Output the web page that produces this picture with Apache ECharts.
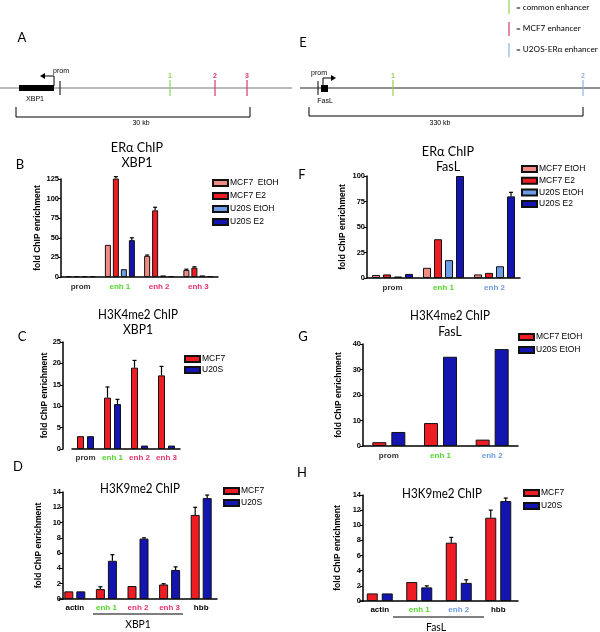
<!DOCTYPE html>
<html lang="en">
  <head>
    <meta charset="UTF-8" />
    <title>ChIP enrichment at XBP1 and FasL</title>
    <script src="https://cdn.jsdelivr.net/npm/echarts@6/dist/echarts.min.js"></script>
    <style>
      body { margin: 0; background: #fff; }
    </style>
  </head>
  <body>
    <div id="main" style="width: 600px; height: 632px"></div>

    <script type="text/javascript">
      // categories
      const xbp1Cats = ["prom", "enh 1", "enh 2", "enh 3"];
      const faslCats = ["prom", "enh 1", "enh 2"];
      const xbp1K9Cats = ["actin", "enh 1", "enh 2", "enh 3", "hbb"];
      const faslK9Cats = ["actin", "enh 1", "enh 2", "hbb"];

      // B: ERa ChIP XBP1
      const bMcf7EtOH = [1, 41, 27, 9];
      const bMcf7E2 = [1, 126, 85, 12];
      const bU2osEtOH = [1, 10, 2, 2];
      const bU2osE2 = [1, 47, 1, 1];
      const bMcf7EtOHErr = [null, null, 28, 10];
      const bMcf7E2Err = [null, 128, 89, 13];
      const bU2osE2Err = [null, 50, null, null];

      // F: ERa ChIP FasL
      const fMcf7EtOH = [3, 10, 3.5];
      const fMcf7E2 = [3.5, 38, 5];
      const fU2osEtOH = [1.5, 17.5, 11.5];
      const fU2osE2 = [4, 100, 80];
      const fU2osE2Err = [null, null, 84];

      // C: H3K4me2 XBP1
      const cMcf7 = [3, 12, 19, 17.2];
      const cU2os = [3, 10.5, 0.8, 0.8];
      const cMcf7Err = [null, 14.5, 20.7, 19.3];
      const cU2osErr = [null, 11.6, null, null];

      // G: H3K4me2 FasL
      const gMcf7 = [1.5, 9, 2.5];
      const gU2os = [5.5, 35, 38];

      // D: H3K9me2 XBP1
      const dMcf7 = [1, 1.3, 1.7, 1.9, 11.0];
      const dU2os = [1, 5.0, 7.9, 3.8, 13.2];
      const dMcf7Err = [null, 1.6, null, 2.0, 12.0];
      const dU2osErr = [null, 5.8, 8.0, 4.2, 13.6];

      // H: H3K9me2 FasL
      const hMcf7 = [1, 2.5, 7.7, 11.0];
      const hU2os = [1, 1.8, 2.4, 13.2];
      const hMcf7Err = [null, null, 8.4, 12.0];
      const hU2osErr = [null, 2.0, 2.8, 13.6];

      const PINK = "#f28a84";
      const RED = "#ee1d23";
      const LBLUE = "#6d9de6";
      const BLUE = "#1414b0";
      const GREEN_T = "#52d62a";
      const PINK_T = "#e8306b";
      const BLUE_T = "#6c9ae0";
      const DARK_T = "#333";
      const SANS = "Liberation Sans, Arial, sans-serif";
      const TITLE = "Lato, sans-serif";

      let myChart = echarts.init(document.getElementById("main"));

      const option = {
        animation: false,
        backgroundColor: "#fff",
        grid: [],
        xAxis: [],
        yAxis: [],
        series: [],
        legend: [],
        graphic: [],
      };

      function addPanel(p) {
        const i = option.grid.length;
        option.grid.push({ left: p.left, top: p.top, width: p.width, height: p.height });

        const rich = {};
        p.labelColors.forEach((c, k) => {
          rich["c" + k] = { color: c, fontSize: 8, fontWeight: "bold", fontFamily: SANS };
        });
        option.xAxis.push({
          type: "category",
          gridIndex: i,
          data: p.cats,
          axisLine: { lineStyle: { color: "#000", width: 1.5 } },
          axisTick: { alignWithLabel: true, length: 3, lineStyle: { color: "#000" } },
          axisLabel: {
            interval: 0,
            margin: p.labelMargin,
            formatter: (v, k) => "{c" + k + "|" + v + "}",
            rich: rich,
          },
        });
        option.yAxis.push({
          type: "value",
          gridIndex: i,
          min: 0,
          max: p.ymax,
          interval: p.yint,
          offset: p.yOffset || 0,
          splitLine: { show: false },
          axisLine: { show: true, lineStyle: { color: "#000", width: 1.5 } },
          axisTick: { show: true, length: 3, lineStyle: { color: "#000" } },
          axisLabel: { fontSize: 7.5, fontWeight: "bold", color: "#000", margin: 2, fontFamily: SANS },
          name: "fold ChIP enrichment",
          nameLocation: "middle",
          nameGap: p.nameGap,
          nameTextStyle: { fontSize: 8.5, fontWeight: "bold", color: "#000", fontFamily: SANS },
        });

        const n = p.series.length;
        p.series.forEach((s, j) => {
          option.series.push({
            type: "bar",
            name: s.name,
            xAxisIndex: i,
            yAxisIndex: i,
            data: s.values,
            barWidth: p.barWidth,
            barGap: (p.gap / p.barWidth) * 100 + "%",
            itemStyle: { color: s.color, borderColor: "#111", borderWidth: 1 },
          });
          if (s.err) {
            const offset = (j - (n - 1) / 2) * (p.barWidth + p.gap);
            const errData = [];
            s.err.forEach((e, k) => {
              if (e != null) errData.push([k, e, s.values[k]]);
            });
            option.series.push({
              type: "custom",
              xAxisIndex: i,
              yAxisIndex: i,
              z: 3,
              data: errData,
              encode: { x: 0, y: 1 },
              renderItem: (params, api) => {
                const top = api.coord([api.value(0), api.value(1)]);
                const base = api.coord([api.value(0), api.value(2)]);
                const cx = top[0] + offset;
                const cap = 2;
                return {
                  type: "group",
                  children: [
                    { type: "line", shape: { x1: cx, y1: base[1], x2: cx, y2: top[1] }, style: { stroke: "#000", lineWidth: 1.2 } },
                    { type: "line", shape: { x1: cx - cap, y1: top[1], x2: cx + cap, y2: top[1] }, style: { stroke: "#000", lineWidth: 1.2 } },
                  ],
                };
              },
            });
          }
        });

        option.legend.push({
          data: p.series.map((s) => s.name),
          left: p.legend[0],
          top: p.legend[1],
          orient: "vertical",
          icon: "rect",
          itemWidth: 15,
          itemHeight: 6,
          itemGap: p.legend[2],
          selectedMode: false,
          padding: 0,
          formatter: (nm) => nm.split("|")[1],
          textStyle: { fontSize: 8.5, color: "#000", fontFamily: SANS, lineHeight: 10, padding: [0, 0, 0, -3] },
        });
      }

      // B
      addPanel({
        left: 61, top: 179, width: 157, height: 98,
        cats: xbp1Cats, labelColors: [DARK_T, GREEN_T, PINK_T, PINK_T], labelMargin: 6,
        ymax: 125, yint: 25, nameGap: 17,
        barWidth: 6, gap: 2,
        legend: [212, 178, 3],
        series: [
          { name: "B|MCF7  EtOH", values: bMcf7EtOH, err: bMcf7EtOHErr, color: PINK },
          { name: "B|MCF7 E2", values: bMcf7E2, err: bMcf7E2Err, color: RED },
          { name: "B|U20S EtOH", values: bU2osEtOH, color: LBLUE },
          { name: "B|U20S E2", values: bU2osE2, err: bU2osE2Err, color: BLUE },
        ],
      });
      // F
      addPanel({
        left: 367, top: 176, width: 153, height: 102,
        cats: faslCats, labelColors: [DARK_T, GREEN_T, BLUE_T], labelMargin: 6,
        ymax: 100, yint: 25, nameGap: 20,
        barWidth: 8, gap: 3,
        legend: [521, 164, 1.7],
        series: [
          { name: "F|MCF7 EtOH", values: fMcf7EtOH, color: PINK },
          { name: "F|MCF7 E2", values: fMcf7E2, color: RED },
          { name: "F|U20S EtOH", values: fU2osEtOH, color: LBLUE },
          { name: "F|U20S E2", values: fU2osE2, err: fU2osE2Err, color: BLUE },
        ],
      });
      // C
      addPanel({
        left: 72, top: 342, width: 108, height: 107,
        cats: xbp1Cats, labelColors: [DARK_T, GREEN_T, PINK_T, PINK_T], labelMargin: 5,
        ymax: 25, yint: 5, nameGap: 13, yOffset: 9,
        barWidth: 7, gap: 3,
        legend: [184, 354, 1],
        series: [
          { name: "C|MCF7", values: cMcf7, err: cMcf7Err, color: RED },
          { name: "C|U20S", values: cU2os, err: cU2osErr, color: BLUE },
        ],
      });
      // G
      addPanel({
        left: 363, top: 344, width: 155, height: 102,
        cats: faslCats, labelColors: [DARK_T, GREEN_T, BLUE_T], labelMargin: 6,
        ymax: 40, yint: 10, nameGap: 20,
        barWidth: 14, gap: 5,
        legend: [518, 332, 3],
        series: [
          { name: "G|MCF7 EtOH", values: gMcf7, color: RED },
          { name: "G|U20S EtOH", values: gU2os, color: BLUE },
        ],
      });
      // D
      addPanel({
        left: 59, top: 492, width: 158, height: 107,
        cats: xbp1K9Cats, labelColors: ["#000", GREEN_T, PINK_T, PINK_T, "#000"], labelMargin: 5,
        ymax: 14, yint: 2, nameGap: 20, yOffset: -4,
        barWidth: 9, gap: 3,
        legend: [223, 486, 2],
        series: [
          { name: "D|MCF7", values: dMcf7, err: dMcf7Err, color: RED },
          { name: "D|U20S", values: dU2os, err: dU2osErr, color: BLUE },
        ],
      });
      // H
      addPanel({
        left: 360, top: 495, width: 158, height: 106,
        cats: faslK9Cats, labelColors: ["#000", GREEN_T, BLUE_T, "#000"], labelMargin: 5,
        ymax: 14, yint: 2, nameGap: 21, yOffset: -3,
        barWidth: 11, gap: 4,
        legend: [523, 488, 3],
        series: [
          { name: "H|MCF7", values: hMcf7, err: hMcf7Err, color: RED },
          { name: "H|U20S", values: hU2os, err: hU2osErr, color: BLUE },
        ],
      });

      // text helpers for the decorations
      function txt(x, y, s, size, color, font, weight, sx) {
        return {
          type: "text", x: x, y: y, scaleX: sx || 1, silent: true,
          style: { text: s, fontSize: size, fill: color || "#000", fontFamily: font || SANS, fontWeight: weight || "normal", align: "center", verticalAlign: "middle" },
        };
      }
      function title(x, y, s, size, sx) {
        return txt(x, y, s, size, "#000", TITLE, "normal", sx);
      }
      function seg(x1, y1, x2, y2, color, w) {
        return { type: "line", silent: true, shape: { x1, y1, x2, y2 }, style: { stroke: color || "#000", lineWidth: w || 1 } };
      }

      const G_MARK = "#8fd450";
      const P_MARK = "#d9386b";
      const B_MARK = "#8ab0e2";

      option.graphic = [
        // panel letters
        title(22, 38, "A", 13), title(20, 165, "B", 13),
        title(22, 337, "C", 13), title(18, 467, "D", 13),
        title(303, 43, "E", 13), title(302, 175, "F", 13),
        title(303, 337, "G", 13), title(302, 473, "H", 13),
        // panel titles
        title(137, 147, "ERα ChIP", 14, 0.9), title(137, 162, "XBP1", 14, 0.9),
        title(448, 151, "ERα ChIP", 14, 0.9), title(448, 166, "FasL", 14, 0.9),
        title(138, 315, "H3K4me2 ChIP", 13.5, 0.86), title(138, 330, "XBP1", 13.5, 0.9),
        title(450, 316, "H3K4me2 ChIP", 13.5, 0.86), title(450, 332, "FasL", 13.5, 0.9),
        title(140, 489, "H3K9me2 ChIP", 13.5, 0.86),
        title(442, 494, "H3K9me2 ChIP", 13.5, 0.86),
        // gene labels under D and H
        seg(93, 614, 183, 614), title(138, 624, "XBP1", 11.5, 0.9),
        seg(393, 617, 484, 617), title(436, 627, "FasL", 11.5, 0.9),

        // A: XBP1 locus
        seg(0, 88, 292, 88, "#777", 1),
        { type: "rect", silent: true, shape: { x: 19, y: 85, width: 35, height: 6 }, style: { fill: "#000" } },
        seg(60, 81, 60, 95),
        { type: "polyline", silent: true, shape: { points: [[54, 86], [54, 76], [45, 76]] }, style: { stroke: "#000", lineWidth: 1, fill: null } },
        { type: "polygon", silent: true, shape: { points: [[40, 76], [45, 73], [45, 79]] }, style: { fill: "#000" } },
        txt(61, 71, "prom", 7), txt(35, 99, "XBP1", 7),
        seg(170, 80, 170, 96, G_MARK, 1.2), txt(170, 76, "1", 7, G_MARK, SANS, "bold"),
        seg(215, 80, 215, 96, P_MARK, 1.2), txt(215, 76, "2", 7, P_MARK, SANS, "bold"),
        seg(247, 80, 247, 96, P_MARK, 1.2), txt(247, 76, "3", 7, P_MARK, SANS, "bold"),
        { type: "polyline", silent: true, shape: { points: [[16, 107], [16, 117], [250, 117], [250, 107]] }, style: { stroke: "#000", lineWidth: 1, fill: null } },
        txt(141, 123, "30 kb", 7),

        // E: FasL locus
        seg(300, 88, 600, 88, "#222", 1),
        seg(318, 81, 318, 95),
        { type: "rect", silent: true, shape: { x: 321, y: 85, width: 7, height: 7 }, style: { fill: "#000" } },
        { type: "polyline", silent: true, shape: { points: [[323, 85], [323, 78], [331, 78]] }, style: { stroke: "#000", lineWidth: 1, fill: null } },
        { type: "polygon", silent: true, shape: { points: [[336, 78], [331, 75], [331, 81]] }, style: { fill: "#000" } },
        txt(319, 73, "prom", 7), txt(325, 101, "FasL", 7),
        seg(393, 80, 393, 96, G_MARK, 1.2), txt(393, 76, "1", 7, G_MARK, SANS, "bold"),
        seg(583, 80, 583, 96, B_MARK, 1.2), txt(583, 76, "2", 7, B_MARK, SANS, "bold"),
        { type: "polyline", silent: true, shape: { points: [[309, 107], [309, 116], [583, 116], [583, 107]] }, style: { stroke: "#000", lineWidth: 1, fill: null } },
        txt(440, 123, "330 kb", 7),

        // enhancer key
        seg(509, 0, 509, 14, G_MARK, 1.2),
        { type: "text", x: 516, y: 7, silent: true, style: { text: "= common enhancer", fontSize: 8.2, fontFamily: TITLE, fill: "#000", verticalAlign: "middle" } },
        seg(509, 22, 509, 36, P_MARK, 1.2),
        { type: "text", x: 516, y: 28, silent: true, style: { text: "= MCF7 enhancer", fontSize: 8.2, fontFamily: TITLE, fill: "#000", verticalAlign: "middle" } },
        seg(509, 43, 509, 57, B_MARK, 1.2),
        { type: "text", x: 516, y: 49, silent: true, style: { text: "= U2OS-ERα enhancer", fontSize: 8.2, fontFamily: TITLE, fill: "#000", verticalAlign: "middle" } },
      ];

      myChart.setOption(option);
    </script>
  </body>
</html>
